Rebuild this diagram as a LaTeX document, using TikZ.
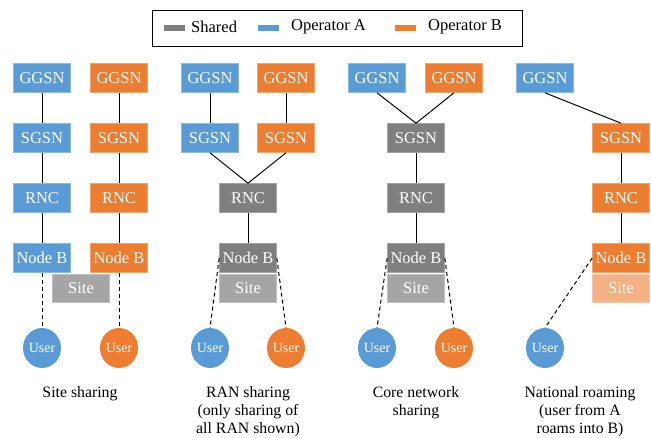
\documentclass[tikz,border=0pt]{standalone}
\usepackage{fontspec}
\setmainfont{Liberation Serif}
\usepackage{tikz}
\usetikzlibrary{positioning}
\usetikzlibrary{shapes.geometric}
\definecolor{opA}{HTML}{5B9BD5}
\definecolor{opB}{HTML}{ED7D31}
\definecolor{shared}{HTML}{7F7F7F}
\definecolor{sitegray}{HTML}{A5A5A5}
\definecolor{siteB}{HTML}{F4B183}
\tikzstyle{box} = [rectangle, minimum width=57, minimum height=29, inner sep=0, text=white, line width=0.6pt, font=\fontsize{16.5}{18}\selectfont]
\tikzstyle{boxA} = [box, fill=opA, draw=opA!70!white]
\tikzstyle{boxB} = [box, fill=opB, draw=opB!70!white]
\tikzstyle{boxS} = [box, fill=shared, draw=shared!70!white]
\tikzstyle{site} = [box, minimum height=28, fill=sitegray, draw=sitegray!70!white]
\tikzstyle{siteO} = [box, minimum height=28, fill=siteB, draw=siteB!70!white]
\tikzstyle{user} = [ellipse, minimum width=38, minimum height=40, inner sep=0, text=white, font=\fontsize{14}{16}\selectfont]
\tikzstyle{link} = [-, line width=1pt]
\tikzstyle{cor} = [-, dash pattern=on 4pt off 3pt, line width=1pt]
\tikzstyle{lbl} = [draw=none, align=center, anchor=north, font=\fontsize{15.8}{18}\selectfont]
\tikzstyle{swatch} = [rectangle, minimum width=21, minimum height=6, inner sep=0]

\begin{document}
\begin{tikzpicture}[x=1pt, y=-1pt]
\useasboundingbox (0,0) rectangle (651,437);
% legend
\node [draw, line width=0.6pt, minimum width=370, minimum height=36, inner sep=0] (key) at (337,28) {};
\node [swatch, fill=shared] (kS) at (174,28) {};
\node [lbl, anchor=west, inner sep=0, font=\fontsize{16.5}{18}\selectfont] (tS) at (191,27) {Shared};
\node [swatch, fill=opA] (kA) at (268,28) {};
\node [lbl, anchor=west, inner sep=0, font=\fontsize{16.5}{18}\selectfont] (tA) at (291,27) {Operator A};
\node [swatch, fill=opB] (kB) at (405,28) {};
\node [lbl, anchor=west, inner sep=0, font=\fontsize{16.5}{18}\selectfont] (tB) at (428,27) {Operator B};

% site sharing
\node [boxA] (g1a) at (42,78) {GGSN};
\node [boxB] (g1b) at (119,78) {GGSN};
\node [boxA] (s1a) at (42,138) {SGSN};
\node [boxB] (s1b) at (119,138) {SGSN};
\node [boxA] (r1a) at (42,198) {RNC};
\node [boxB] (r1b) at (119,198) {RNC};
\node [boxA] (n1a) at (42,258) {Node B};
\node [boxB] (n1b) at (119,258) {Node B};
\node [site] (site1) at (81,288) {Site};
\node [user, fill=opA] (u1a) at (42,348) {User};
\node [user, fill=opB] (u1b) at (119,348) {User};
\draw [link] (g1a) to (s1a);
\draw [link] (s1a) to (r1a);
\draw [link] (r1a) to (n1a);
\draw [link] (g1b) to (s1b);
\draw [link] (s1b) to (r1b);
\draw [link] (r1b) to (n1b);
\draw [cor] (n1a) to (u1a);
\draw [cor] (n1b) to (u1b);
\node [lbl] (c1) at (80,383) {Site sharing};

% RAN sharing
\node [boxA] (g2a) at (210,78) {GGSN};
\node [boxB] (g2b) at (286,78) {GGSN};
\node [boxA] (s2a) at (210,138) {SGSN};
\node [boxB] (s2b) at (286,138) {SGSN};
\node [boxS] (r2) at (248,198) {RNC};
\node [boxS] (n2) at (248,258) {Node B};
\node [site] (site2) at (248,288) {Site};
\node [user, fill=opA] (u2a) at (210,348) {User};
\node [user, fill=opB] (u2b) at (286,348) {User};
\draw [link] (g2a) to (s2a);
\draw [link] (g2b) to (s2b);
\draw [link] (s2a.south) to (r2.north);
\draw [link] (s2b.south) to (r2.north);
\draw [link] (r2) to (n2);
\draw [cor] (n2.west) to (u2a.north);
\draw [cor] (n2.east) to (u2b.north);
\node [lbl] (c2) at (248,383) {RAN sharing\\(only sharing of\\all RAN shown)};

% core network sharing
\node [boxA] (g3a) at (377,78) {GGSN};
\node [boxB] (g3b) at (454,78) {GGSN};
\node [boxS] (s3) at (416,138) {SGSN};
\node [boxS] (r3) at (416,198) {RNC};
\node [boxS] (n3) at (416,258) {Node B};
\node [site] (site3) at (416,288) {Site};
\node [user, fill=opA] (u3a) at (377,348) {User};
\node [user, fill=opB] (u3b) at (454,348) {User};
\draw [link] (g3a.south) to (s3.north);
\draw [link] (g3b.south) to (s3.north);
\draw [link] (s3) to (r3);
\draw [link] (r3) to (n3);
\draw [cor] (n3.west) to (u3a.north);
\draw [cor] (n3.east) to (u3b.north);
\node [lbl] (c3) at (416,383) {Core network\\sharing};

% national roaming
\node [boxA] (g4a) at (545,78) {GGSN};
\node [boxB] (s4) at (621,138) {SGSN};
\node [boxB] (r4) at (621,198) {RNC};
\node [boxB] (n4) at (621,258) {Node B};
\node [siteO] (site4) at (621,288) {Site};
\node [user, fill=opA] (u4a) at (545,348) {User};
\draw [link] (g4a.south) to (s4.north);
\draw [link] (s4) to (r4);
\draw [link] (r4) to (n4);
\draw [cor] (n4.west) to (u4a.north);
\node [lbl] (c4) at (580,383) {National roaming\\(user from A\\roams into B)};
\end{tikzpicture}
\end{document}
